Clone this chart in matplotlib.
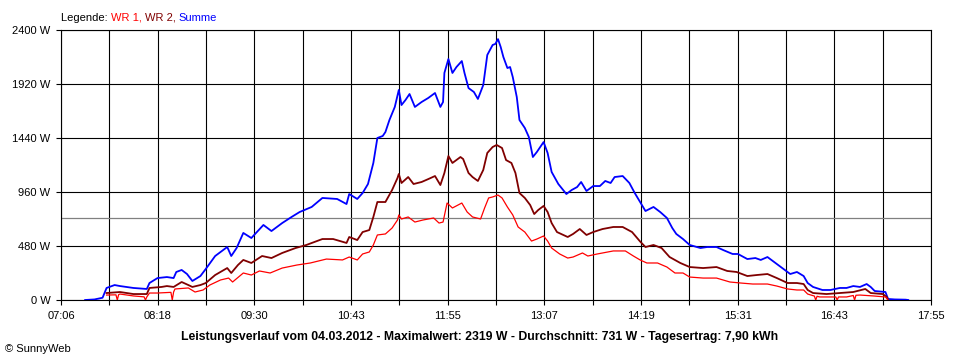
import matplotlib
matplotlib.use("Agg")
import matplotlib.pyplot as plt

plt.rcParams['font.family'] = ['Liberation Sans', 'DejaVu Sans']

# axis range and labels
x_start = "07:06"
x_end = "17:55"
x_labels = ["07:06", "08:18", "09:30", "10:43", "11:55", "13:07", "14:19", "15:31", "16:43", "17:55"]
y_ticks = [0, 480, 960, 1440, 1920, 2400]
average = 731

# Summe (blue)
sum_times = ["07:24", "07:31", "07:37", "07:40", "07:46", "07:50", "08:00", "08:10", "08:12", "08:18",
             "08:25", "08:30", "08:32", "08:36", "08:40", "08:44", "08:50", "08:54", "09:01", "09:10",
             "09:13", "09:17", "09:22", "09:28", "09:37", "09:43", "09:51", "09:58", "10:04", "10:13",
             "10:21", "10:32", "10:39", "10:41", "10:47", "10:51", "10:55", "10:59", "11:02", "11:06",
             "11:08", "11:11", "11:15", "11:18", "11:20", "11:23", "11:26", "11:30", "11:35", "11:40",
             "11:45", "11:49", "11:51", "11:52", "11:55", "11:58", "12:01", "12:05", "12:07", "12:10",
             "12:14", "12:17", "12:21", "12:24", "12:28", "12:30", "12:32", "12:34", "12:36", "12:39",
             "12:41", "12:43", "12:46", "12:48", "12:52", "12:55", "12:58", "13:01", "13:06", "13:09",
             "13:12", "13:17", "13:23", "13:27", "13:31", "13:34", "13:38", "13:43", "13:48", "13:52",
             "13:56", "13:59", "14:05", "14:10", "14:14", "14:18", "14:22", "14:28", "14:33", "14:38",
             "14:42", "14:45", "14:50", "14:55", "15:03", "15:08", "15:15", "15:20", "15:27", "15:31",
             "15:38", "15:44", "15:48", "15:53", "15:59", "16:05", "16:10", "16:15", "16:20", "16:23",
             "16:27", "16:34", "16:40", "16:47", "16:52", "16:57", "17:02", "17:07", "17:10", "17:13",
             "17:21", "17:23", "17:28", "17:36", "17:38"]
sum_watts = [0, 5, 20, 107, 133, 124, 107, 98, 151, 195,
             204, 195, 249, 267, 231, 169, 213, 276, 391, 471,
             391, 462, 596, 551, 667, 613, 684, 738, 782, 827,
             907, 898, 853, 942, 898, 951, 1031, 1218, 1440, 1458,
             1493, 1600, 1716, 1867, 1733, 1778, 1831, 1716, 1760, 1796,
             1840, 1716, 1760, 2018, 2142, 2018, 2071, 2124, 2018, 1884,
             1849, 1787, 1911, 2178, 2267, 2276, 2319, 2249, 2160, 2062,
             2071, 1982, 1804, 1600, 1529, 1449, 1271, 1316, 1404, 1307,
             1138, 1031, 942, 978, 1004, 1049, 969, 1013, 1013, 1058,
             1040, 1093, 1102, 1040, 951, 871, 791, 827, 782, 729,
             640, 587, 542, 489, 462, 471, 471, 444, 409, 409,
             364, 373, 356, 382, 329, 276, 231, 249, 213, 151,
             116, 89, 89, 107, 107, 124, 116, 142, 116, 80,
             71, 9, 5, 3, 0]

# WR 2 (dark red)
wr2_times = ["07:40", "07:50", "08:00", "08:10", "08:12", "08:21", "08:25", "08:30", "08:36", "08:41",
             "08:44", "08:50", "08:54", "09:01", "09:10", "09:13", "09:18", "09:22", "09:28", "09:36",
             "09:43", "09:51", "10:01", "10:09", "10:21", "10:29", "10:39", "10:41", "10:47", "10:51",
             "10:56", "10:59", "11:02", "11:08", "11:13", "11:17", "11:18", "11:20", "11:25", "11:29",
             "11:35", "11:40", "11:45", "11:49", "11:52", "11:55", "11:58", "12:04", "12:06", "12:10",
             "12:13", "12:17", "12:21", "12:24", "12:28", "12:31", "12:35", "12:38", "12:42", "12:45",
             "12:48", "12:52", "12:56", "12:59", "13:02", "13:06", "13:09", "13:12", "13:16", "13:24",
             "13:28", "13:33", "13:38", "13:43", "13:50", "13:58", "14:05", "14:12", "14:18", "14:22",
             "14:28", "14:34", "14:40", "14:48", "14:55", "15:05", "15:15", "15:23", "15:30", "15:38",
             "15:45", "15:53", "16:00", "16:08", "16:15", "16:20", "16:23", "16:27", "16:37", "16:47",
             "16:57", "17:06", "17:10", "17:19", "17:22", "17:23"]
wr2_watts = [62, 71, 53, 53, 107, 116, 124, 116, 160, 133,
             116, 133, 151, 222, 284, 240, 311, 356, 329, 391,
             373, 418, 462, 489, 542, 542, 507, 560, 533, 604,
             622, 738, 871, 871, 978, 1084, 1120, 1040, 1093, 1031,
             1049, 1075, 1102, 1022, 1129, 1280, 1218, 1271, 1253, 1129,
             1093, 1058, 1156, 1307, 1360, 1378, 1351, 1244, 1218, 1129,
             951, 907, 844, 764, 800, 836, 782, 684, 604, 560,
             587, 631, 578, 604, 631, 649, 649, 604, 520, 471,
             489, 462, 382, 329, 293, 284, 293, 258, 249, 213,
             222, 231, 195, 151, 151, 142, 89, 62, 53, 62,
             71, 98, 62, 53, 27, 0]

# WR 1 (red)
wr1_times = ["07:40", "07:47", "07:48", "07:49", "07:50", "08:00", "08:08", "08:09", "08:10", "08:12",
             "08:18", "08:28", "08:29", "08:30", "08:31", "08:41", "08:46", "08:52", "08:57", "09:05",
             "09:11", "09:14", "09:22", "09:28", "09:34", "09:42", "09:51", "10:02", "10:12", "10:24",
             "10:36", "10:41", "10:47", "10:51", "10:56", "10:59", "11:02", "11:08", "11:13", "11:17",
             "11:18", "11:20", "11:25", "11:30", "11:36", "11:44", "11:48", "11:51", "11:54", "11:58",
             "12:05", "12:09", "12:13", "12:19", "12:22", "12:25", "12:28", "12:32", "12:35", "12:39",
             "12:43", "12:47", "12:52", "12:57", "13:01", "13:06", "13:09", "13:12", "13:18", "13:24",
             "13:28", "13:35", "13:39", "13:46", "13:58", "14:07", "14:13", "14:18", "14:23", "14:31",
             "14:38", "14:44", "14:50", "14:55", "15:05", "15:15", "15:25", "15:33", "15:42", "15:53",
             "16:00", "16:08", "16:15", "16:20", "16:23", "16:28", "16:29", "16:30", "16:32", "16:42",
             "16:44", "16:45", "16:46", "16:52", "16:57", "16:58", "16:59", "17:02", "17:12", "17:21",
             "17:23"]
wr1_watts = [44, 46, 0, 48, 53, 36, 28, 0, 27, 62,
             62, 68, 0, 71, 98, 107, 71, 89, 133, 178,
             195, 160, 240, 222, 258, 240, 284, 311, 329, 364,
             356, 382, 356, 409, 427, 489, 578, 587, 640, 711,
             756, 720, 738, 693, 711, 729, 684, 693, 862, 818,
             862, 782, 738, 720, 818, 907, 916, 933, 907, 827,
             756, 649, 604, 524, 542, 569, 524, 462, 409, 373,
             382, 418, 391, 409, 436, 436, 391, 356, 329, 329,
             293, 240, 240, 204, 195, 195, 160, 151, 142, 142,
             124, 98, 89, 89, 53, 35, 0, 33, 27, 27,
             27, 0, 27, 27, 40, 0, 42, 44, 36, 27,
             0]


def to_min(hhmm):
    h, m = hhmm.split(":")
    return int(h) * 60 + int(m)


fig = plt.figure(figsize=(9.6, 3.6), dpi=100)
ax = fig.add_axes([61 / 960, 60 / 360, 870 / 960, 270 / 360])

x0 = to_min(x_start)
x1 = to_min(x_end)
step = (x1 - x0) / (len(x_labels) - 1)
major = [x0 + i * step for i in range(len(x_labels))]
minor = [x0 + (i + 0.5) * step for i in range(len(x_labels) - 1)]

ax.set_xlim(x0, x1)
ax.set_ylim(0, 2400)
ax.set_xticks(major)
ax.set_xticklabels(x_labels)
ax.set_xticks(minor, minor=True)
ax.set_yticks(y_ticks)
ax.set_yticklabels([f"{v} W" for v in y_ticks])

ax.grid(True, which='both', color='black', lw=0.8)
ax.set_axisbelow(True)
ax.tick_params(which='both', direction='out', length=3.6, width=0.8, color='black',
               labelsize=8, pad=4)
for s in ax.spines.values():
    s.set_color('black')
    s.set_linewidth(0.8)

# average line
ax.axhline(average, color='#808080', lw=0.9, zorder=2)

ax.plot([to_min(t) for t in sum_times], sum_watts, color='#0000FF', lw=1.3, zorder=3)
ax.plot([to_min(t) for t in wr2_times], wr2_watts, color='#800000', lw=1.3, zorder=4)
ax.plot([to_min(t) for t in wr1_times], wr1_watts, color='#FF0000', lw=0.9, zorder=5)

# coloured legend on top
renderer = fig.canvas.get_renderer()
lx = 61 / 960
ly = 1 - 21 / 360
for txt, col in [("Legende: ", "black"), ("WR 1, ", "#FF0000"), ("WR 2, ", "#800000"), ("Summe", "#0000FF")]:
    t = fig.text(lx, ly, txt, color=col, fontsize=8, va='baseline', ha='left')
    lx += t.get_window_extent(renderer).width / 960

fig.text(0.5, 1 - 337 / 360,
         "Leistungsverlauf vom 04.03.2012 - Maximalwert: 2319 W - Durchschnitt: 731 W - Tagesertrag: 7,90 kWh",
         fontsize=8.8, fontweight='bold', ha='center', va='center')
fig.text(5 / 960, 1 - 349 / 360, "\u00a9 SunnyWeb", fontsize=8, ha='left', va='center')

fig.savefig("out.png", dpi=100)
